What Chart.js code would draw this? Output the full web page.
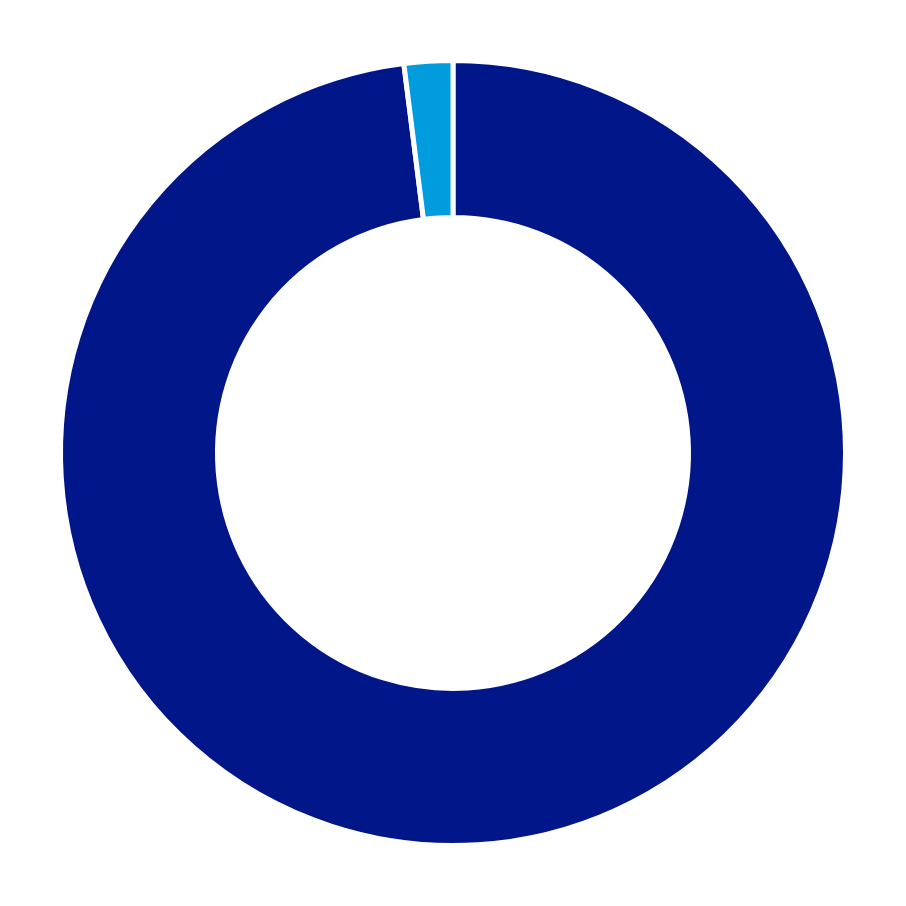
<!DOCTYPE html>
<html>
<head>
<meta charset="utf-8">
<script src="https://cdn.jsdelivr.net/npm/chart.js@4"></script>
<style>
html,body{margin:0;padding:0;background:#fff;}
#wrap{width:906px;height:906px;}
</style>
</head>
<body>
<div id="wrap"><canvas id="c" width="906" height="906"></canvas></div>
<script>
const labels = ["Segment A", "Segment B"];
const values = [98, 2];
const colors = ["#001689", "#009CDE"];

new Chart(document.getElementById('c'), {
  type: 'doughnut',
  data: {
    labels: labels,
    datasets: [{
      data: values,
      backgroundColor: colors,
      borderColor: '#ffffff',
      borderWidth: 5
    }]
  },
  options: {
    responsive: false,
    animation: false,
    cutout: '60%',
    layout: { padding: 58 },
    plugins: { legend: { display: false }, tooltip: { enabled: false } }
  }
});
</script>
</body>
</html>
